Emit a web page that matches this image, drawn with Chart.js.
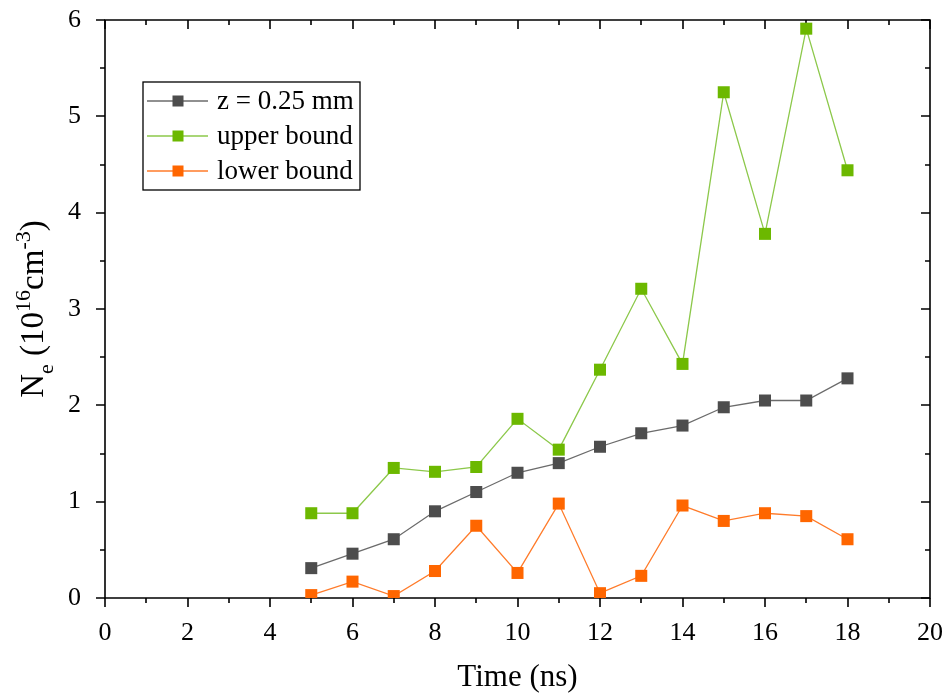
<!DOCTYPE html>
<html><head><meta charset="utf-8">
<script src="https://cdn.jsdelivr.net/npm/chart.js@4/dist/chart.umd.min.js"></script>
<style>html,body{margin:0;padding:0;background:#fff}#wrap{width:944px;height:697px;position:relative}</style>
</head><body><div id="wrap"><canvas id="c" width="944" height="697"></canvas></div>
<script>
const times = [5,6,7,8,9,10,11,12,13,14,15,16,17,18];
const zSeries = [0.31,0.46,0.61,0.90,1.10,1.30,1.40,1.57,1.71,1.79,1.98,2.05,2.05,2.28];
const upperBound = [0.88,0.88,1.35,1.31,1.36,1.86,1.54,2.37,3.21,2.43,5.25,3.78,5.91,4.44];
const lowerBound = [0.03,0.17,0.02,0.28,0.75,0.26,0.98,0.05,0.23,0.96,0.80,0.88,0.85,0.61];
const seriesLabels = ['z = 0.25 mm','upper bound','lower bound'];
const xTicks = [0,2,4,6,8,10,12,14,16,18,20];
const yTicks = [0,1,2,3,4,5,6];
const xMinorTicks = [0,1,2,3,4,5,6,7,8,9,10,11,12,13,14,15,16,17,18,19,20];
const yMinorTicks = [0,0.5,1,1.5,2,2.5,3,3.5,4,4.5,5,5.5,6];
const xTitle = 'Time (ns)';

const FONT = "'Liberation Serif', 'Times New Roman', serif";
const lineColors = ['#6b6b6b','#8cc84a','#ff7b2a'];
const markColors = ['#4d4d4d','#6cb800','#ff6600'];

function mk(i, data){
  return {
    label: seriesLabels[i],
    data: times.map((t,k)=>({x:t,y:data[k]})),
    borderColor: lineColors[i],
    backgroundColor: markColors[i],
    borderWidth: 1.3,
    pointStyle: 'rect',
    pointRadius: 8.5,
    pointHoverRadius: 8.5,
    pointBorderWidth: 0,
    pointBackgroundColor: markColors[i],
    pointBorderColor: markColors[i],
    tension: 0
  };
}

const framePlugin = {
  id: 'frame',
  beforeDatasetsDraw(chart){
    const ctx = chart.ctx, a = chart.chartArea;
    const xs = chart.scales.x, ys = chart.scales.y;
    ctx.save();
    ctx.strokeStyle = '#000';
    ctx.lineWidth = 1.6;
    ctx.beginPath();
    ctx.rect(a.left, a.top, a.right - a.left, a.bottom - a.top);
    ctx.stroke();
    ctx.lineWidth = 1.6;
    ctx.beginPath();
    const MAJ = 9, MIN = 5;
    xMinorTicks.forEach(v=>{
      const px = Math.round(xs.getPixelForValue(v));
      const L = xTicks.includes(v) ? MAJ : MIN;
      ctx.moveTo(px, a.bottom); ctx.lineTo(px, a.bottom + L);
      ctx.moveTo(px, a.top); ctx.lineTo(px, a.top + L);
    });
    yMinorTicks.forEach(v=>{
      const py = Math.round(ys.getPixelForValue(v));
      const L = yTicks.includes(v) ? MAJ : MIN;
      ctx.moveTo(a.left, py); ctx.lineTo(a.left - L, py);
      ctx.moveTo(a.right, py); ctx.lineTo(a.right - L, py);
    });
    ctx.stroke();
    ctx.restore();
  },
  afterDraw(chart){
    const ctx = chart.ctx, a = chart.chartArea;
    ctx.save();
    ctx.fillStyle = '#000';
    ctx.font = '31px ' + FONT;
    ctx.textAlign = 'center';
    ctx.textBaseline = 'alphabetic';
    ctx.fillText(xTitle, (a.left + a.right)/2, 686);
    const parts = [
      {t:'N', s:33, dy:0},
      {t:'e', s:22, dy:10},
      {t:' (10', s:33, dy:0},
      {t:'16', s:22, dy:-13},
      {t:'cm', s:33, dy:0},
      {t:'-3', s:22, dy:-13},
      {t:')', s:33, dy:0}
    ];
    let total = 0;
    parts.forEach(p=>{ctx.font = p.s + 'px ' + FONT; p.w = ctx.measureText(p.t).width; total += p.w;});
    ctx.translate(43, 309);
    ctx.rotate(-Math.PI/2);
    ctx.textAlign = 'left';
    let u = -total/2;
    parts.forEach(p=>{ctx.font = p.s + 'px ' + FONT; ctx.fillText(p.t, u, p.dy); u += p.w;});
    ctx.restore();

    ctx.save();
    const box = {l:143, t:82, r:360, b:190};
    ctx.fillStyle = '#fff';
    ctx.fillRect(box.l, box.t, box.r-box.l, box.b-box.t);
    ctx.strokeStyle = '#000';
    ctx.lineWidth = 1.3;
    ctx.strokeRect(box.l, box.t, box.r-box.l, box.b-box.t);
    const rows = [101, 136, 171];
    chart.data.datasets.forEach((ds,i)=>{
      const y = rows[i];
      ctx.strokeStyle = ds.borderColor;
      ctx.lineWidth = 1.5;
      ctx.beginPath(); ctx.moveTo(147, y); ctx.lineTo(208, y); ctx.stroke();
      ctx.fillStyle = ds.pointBackgroundColor;
      ctx.fillRect(178-5.5, y-5.5, 11, 11);
      ctx.fillStyle = '#000';
      ctx.font = '27px ' + FONT;
      ctx.textAlign = 'left';
      ctx.textBaseline = 'middle';
      ctx.fillText(ds.label, 217, y + 1);
    });
    ctx.restore();
  }
};

new Chart(document.getElementById('c'), {
  type: 'line',
  data: { datasets: [mk(0, zSeries), mk(1, upperBound), mk(2, lowerBound)] },
  options: {
    responsive: false,
    animation: false,
    devicePixelRatio: 1,
    layout: { padding: { top: 20, right: 14, left: 0, bottom: 0 } },
    plugins: { legend: { display: false }, tooltip: { enabled: false } },
    scales: {
      x: {
        type: 'linear', min: 0, max: 20,
        afterBuildTicks: s => { s.ticks = xTicks.map(v=>({value:v})); },
        afterFit: s => { s.height = 99; s.paddingLeft = 0; s.paddingRight = 0; },
        grid: { display: false }, border: { display: false },
        ticks: { font: { family: FONT, size: 26 }, color: '#000', padding: 12, maxRotation: 0, autoSkip: false }
      },
      y: {
        type: 'linear', min: 0, max: 6,
        afterBuildTicks: s => { s.ticks = yTicks.map(v=>({value:v})); },
        afterFit: s => { s.width = 105; s.paddingTop = 0; s.paddingBottom = 0; },
        grid: { display: false }, border: { display: false },
        ticks: { font: { family: FONT, size: 26 }, color: '#000', padding: 16 }
      }
    }
  },
  plugins: [framePlugin]
});
</script>
</body></html>
